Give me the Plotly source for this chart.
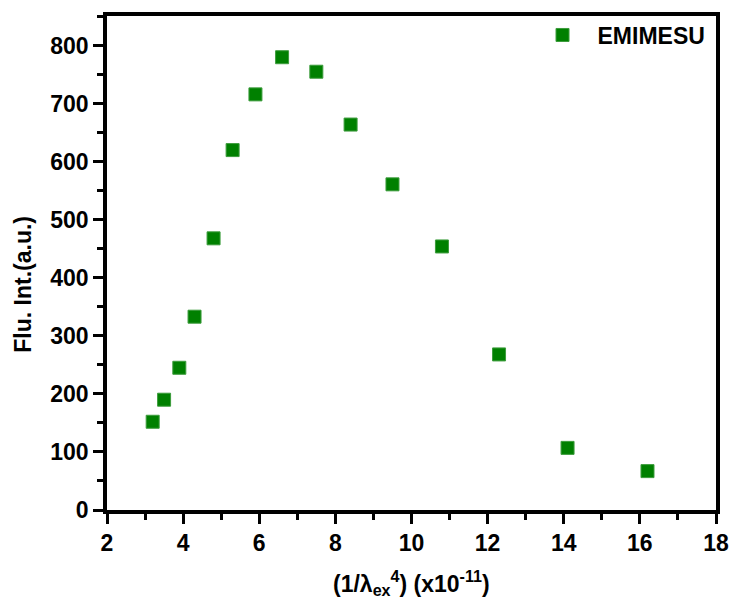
import plotly.graph_objects as go

# Fluorescence intensity versus 1/lambda_ex^4 for EMIMESU
inv_lambda4 = [3.2, 3.5, 3.9, 4.3, 4.8, 5.3, 5.9, 6.6, 7.5, 8.4, 9.5, 10.8, 12.3, 14.1, 16.2]
flu_int = [152, 190, 245, 333, 468, 620, 716, 780, 755, 664, 561, 454, 268, 107, 67]
series_name = "EMIMESU"

x_ticks = [2, 4, 6, 8, 10, 12, 14, 16, 18]
y_ticks = [0, 100, 200, 300, 400, 500, 600, 700, 800]

x_title = "<b>(1/λ<sub>ex</sub><sup>4</sup>) (x10<sup>-11</sup>)</b>"
y_title = "<b>Flu. Int.(a.u.)</b>"

font_family = "Liberation Sans, Arial, sans-serif"
font_size = 23

fig = go.Figure()
fig.add_trace(go.Scatter(
    x=inv_lambda4,
    y=flu_int,
    mode="markers",
    name=series_name,
    marker=dict(symbol="square", size=13, color="#008000",
                line=dict(color="#3c9c3c", width=1)),
))

axis_common = dict(
    showgrid=False,
    zeroline=False,
    showline=True,
    linecolor="#000000",
    linewidth=3.5,
    mirror=True,
    ticks="outside",
    ticklen=10,
    tickwidth=3,
    tickcolor="#000000",
    tickfont=dict(family=font_family, size=font_size, color="black", weight="bold"),
)

fig.update_xaxes(
    range=[2, 18],
    tickvals=x_ticks,
    ticktext=[str(v) for v in x_ticks],
    minor=dict(dtick=1, ticklen=6, tickwidth=3, tickcolor="#000000", ticks="outside"),
    **axis_common,
)
fig.update_yaxes(
    range=[0, 851],
    tickvals=y_ticks,
    ticktext=[str(v) for v in y_ticks],
    minor=dict(dtick=50, ticklen=6, tickwidth=3, tickcolor="#000000", ticks="outside"),
    **axis_common,
)

# Axis titles placed as paper-anchored annotations
fig.add_annotation(
    text=x_title, xref="paper", yref="paper",
    x=0.5, y=-0.112, xanchor="center", yanchor="top",
    showarrow=False,
    font=dict(family=font_family, size=font_size, color="black"),
)
fig.add_annotation(
    text=y_title, xref="paper", yref="paper",
    x=-0.138, y=0.458, xanchor="center", yanchor="middle",
    textangle=-90, showarrow=False,
    font=dict(family=font_family, size=font_size, color="black"),
)

fig.update_layout(
    width=741,
    height=605,
    margin=dict(l=107, r=19, t=12, b=95),
    plot_bgcolor="white",
    paper_bgcolor="white",
    showlegend=True,
    legend=dict(
        x=0.991, y=1.005, xanchor="right", yanchor="top",
        bgcolor="rgba(0,0,0,0)",
        font=dict(family=font_family, size=font_size, color="black", weight="bold"),
        itemwidth=60,
    ),
)

fig.write_html("out.html")
